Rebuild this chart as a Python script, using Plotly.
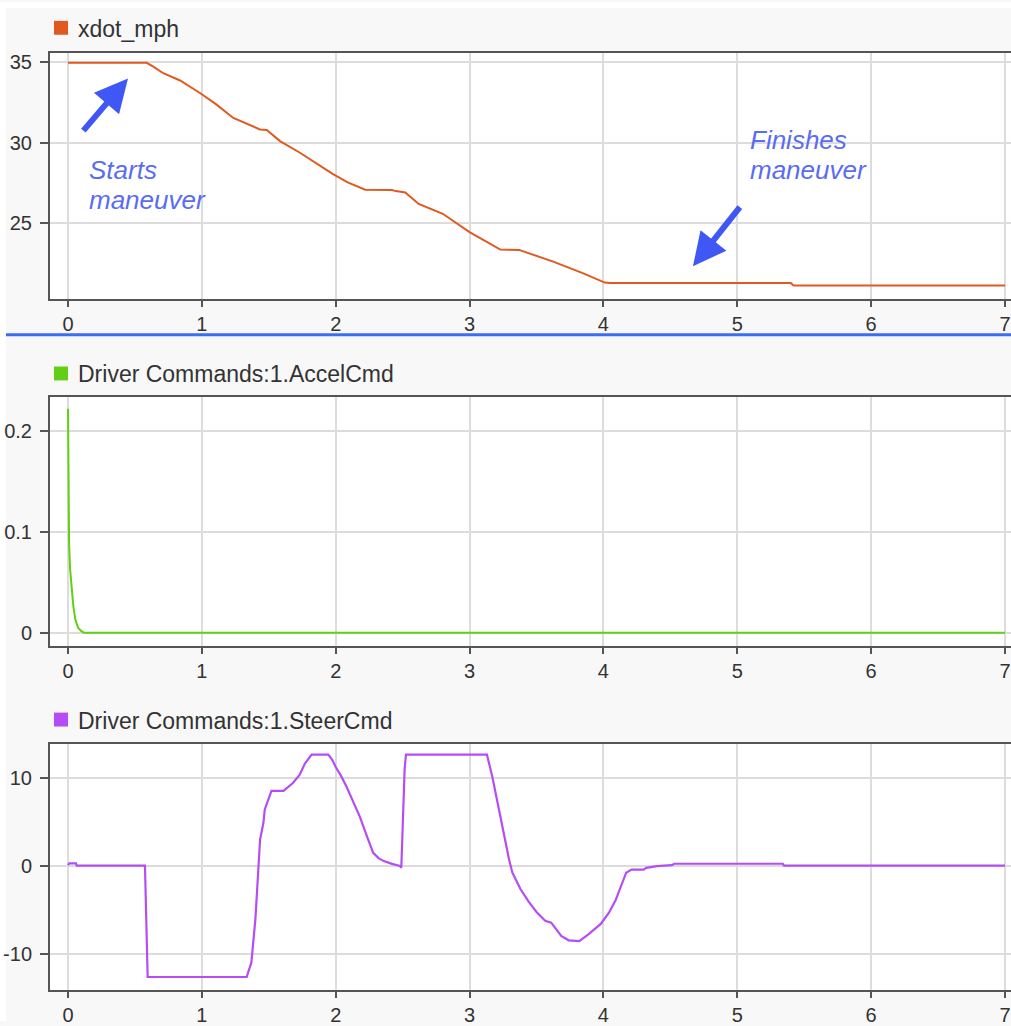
import plotly.graph_objects as go

# ---------------- data ----------------
speed_t = [0, 0.588, 0.637, 0.712, 0.837, 0.986, 1.1, 1.235, 1.434, 1.485, 1.584, 1.733, 1.98,
           2.09, 2.22, 2.42, 2.45, 2.52, 2.62, 2.80, 3.0, 3.23, 3.37, 3.63, 3.85, 4.01,
           4.05, 5.4, 5.42, 7.0]
speed_mph = [34.92, 34.92, 34.69, 34.28, 33.83, 33.06, 32.4, 31.52, 30.81, 30.78, 30.09, 29.37, 28.05,
             27.54, 27.09, 27.07, 27.0, 26.92, 26.21, 25.6, 24.47, 23.39, 23.37, 22.63, 21.92, 21.35,
             21.32, 21.32, 21.17, 21.17]

accel_t = [0, 0.002, 0.004, 0.008, 0.015, 0.025, 0.04, 0.055, 0.075, 0.1, 0.12, 7.0]
accel_cmd = [0.222, 0.17, 0.12, 0.09, 0.064, 0.045, 0.026, 0.013, 0.005, 0.0015, 0.0, 0.0]

steer_t = [0, 0.01, 0.06, 0.065, 0.575, 0.595, 1.335, 1.37, 1.40, 1.42, 1.435, 1.46, 1.47, 1.52,
           1.61, 1.68, 1.73, 1.77, 1.82, 1.945, 1.975, 2.0, 2.04, 2.08, 2.13, 2.18, 2.23, 2.28,
           2.32, 2.36, 2.42, 2.48, 2.49, 2.515, 2.525,
           3.13, 3.17, 3.235, 3.295, 3.32, 3.38, 3.44, 3.50, 3.565, 3.61, 3.685, 3.74, 3.82, 3.89,
           3.98, 4.04, 4.09, 4.17, 4.21, 4.30, 4.32, 4.40, 4.51, 4.53, 5.34, 5.35, 7.0]
steer_cmd = [0.1, 0.3, 0.3, 0.05, 0.05, -12.55, -12.55, -10.9, -6.0, -0.9, 3.0, 4.9, 6.4, 8.5,
             8.5, 9.4, 10.3, 11.6, 12.6, 12.6, 12.0, 11.2, 10.2, 9.0, 7.3, 5.6, 3.5, 1.5,
             0.9, 0.56, 0.25, 0.0, -0.2, 11.0, 12.6,
             12.6, 10.1, 5.2, 0.75, -0.75, -2.6, -4.0, -5.2, -6.2, -6.4, -7.9, -8.4, -8.5, -7.7,
             -6.55, -5.3, -3.9, -0.75, -0.4, -0.4, -0.2, 0.0, 0.1, 0.26, 0.26, 0.05, 0.05]

x_ticks = [0, 1, 2, 3, 4, 5, 6, 7]
speed_ticks = [25, 30, 35]
accel_ticks = [0, 0.1, 0.2]
accel_ticklabels = ["0", "0.1", "0.2"]
steer_ticks = [-10, 0, 10]
steer_ticklabels = ["-10", "0", "10"]

names = ["xdot_mph", "Driver Commands:1.AccelCmd", "Driver Commands:1.SteerCmd"]
colors = ["#e05a20", "#62cf14", "#b64cf4"]

# ---------------- layout geometry (pixels) ----------------
W, H = 1011, 1026
def py(p):
    return 1 - p / H

panels = [(51, 299), (398, 648), (747, 994.5)]
x_range = [-0.1345, 7.045]
y_ranges = [[20.34, 35.55], [-0.0128, 0.2335], [-13.99, 13.82]]

fig = go.Figure()
fig.add_trace(go.Scatter(x=speed_t, y=speed_mph, mode="lines", line=dict(color=colors[0], width=2),
                         xaxis="x", yaxis="y", showlegend=False))
fig.add_trace(go.Scatter(x=accel_t, y=accel_cmd, mode="lines", line=dict(color=colors[1], width=2),
                         xaxis="x2", yaxis="y2", showlegend=False))
fig.add_trace(go.Scatter(x=steer_t, y=steer_cmd, mode="lines", line=dict(color=colors[2], width=2.2),
                         xaxis="x3", yaxis="y3", showlegend=False))

tickfont = dict(family="Liberation Sans, Arial, sans-serif", size=20, color="#333333")
layout = dict(
    width=W, height=H,
    margin=dict(l=0, r=0, t=0, b=0),
    paper_bgcolor="#f8f8f8",
    plot_bgcolor="#ffffff",
    showlegend=False,
)
ytick_sets = [(speed_ticks, [str(v) for v in speed_ticks]),
              (accel_ticks, accel_ticklabels),
              (steer_ticks, steer_ticklabels)]
for i, (top, bot) in enumerate(panels):
    sfx = "" if i == 0 else str(i + 1)
    layout["xaxis" + sfx] = dict(
        domain=[50 / W, 1], range=x_range, anchor="y" + sfx,
        tickvals=x_ticks, ticktext=[str(v) for v in x_ticks],
        showgrid=True, gridcolor="#dcdcdc", gridwidth=2,
        zeroline=False, showline=True, linecolor="#555555", linewidth=2, mirror=True,
        ticks="outside", ticklen=6, tickcolor="#555555", tickwidth=1.5,
        tickfont=tickfont, fixedrange=True,
    )
    layout["yaxis" + sfx] = dict(
        domain=[py(bot), py(top)], range=y_ranges[i], anchor="x" + sfx,
        tickvals=ytick_sets[i][0], ticktext=ytick_sets[i][1],
        showgrid=True, gridcolor="#dcdcdc", gridwidth=2,
        zeroline=False, showline=True, linecolor="#555555", linewidth=2, mirror=False,
        ticks="outside", ticklen=8, tickcolor="#555555", tickwidth=1.5,
        tickfont=tickfont, fixedrange=True, ticklabelstandoff=4,
    )
fig.update_layout(**layout)

shapes = []
annotations = []
# white border strip at left/top
shapes.append(dict(type="rect", xref="paper", yref="paper", x0=0, x1=6 / W, y0=0, y1=1,
                   fillcolor="#ffffff", line=dict(width=0), layer="below"))
shapes.append(dict(type="rect", xref="paper", yref="paper", x0=0, x1=1, y0=py(6), y1=1,
                   fillcolor="#ffffff", line=dict(width=0), layer="below"))
# blue separator
shapes.append(dict(type="line", xref="paper", yref="paper", x0=6 / W, x1=1, y0=py(335), y1=py(335),
                   line=dict(color="#3a6cf4", width=3)))

legend_centers = [26, 374, 722.5]
for i, yc in enumerate(legend_centers):
    shapes.append(dict(type="rect", xref="paper", yref="paper",
                       x0=54 / W, x1=68 / W, y0=py(yc + 7), y1=py(yc - 7),
                       fillcolor=colors[i], line=dict(width=0)))
    annotations.append(dict(xref="paper", yref="paper", x=76 / W, y=py(yc + 1),
                            xanchor="left", yanchor="middle", showarrow=False,
                            text=names[i],
                            font=dict(family="Liberation Sans, Arial, sans-serif", size=23, color="#333333")))

note_font = dict(family="Liberation Sans, Arial, sans-serif", size=26, color="#5a6cf2")
note_texts = [("<i>Starts</i>", 0.142, 28.31), ("<i>maneuver</i>", 0.142, 26.47),
              ("<i>Finishes</i>", 5.08, 30.17), ("<i>maneuver</i>", 5.08, 28.33)]
for txt, xv, yv in note_texts:
    annotations.append(dict(xref="x", yref="y", x=xv, y=yv, xanchor="left", yanchor="middle",
                            showarrow=False, text=txt, font=note_font))

arrows = [((0.105, 30.64), (0.448, 33.96)), ((5.028, 26.10), (4.669, 22.36))]
for (tx, ty), (hx, hy) in arrows:
    annotations.append(dict(xref="x", yref="y", axref="x", ayref="y",
                            x=hx, y=hy, ax=tx, ay=ty, text="", showarrow=True,
                            arrowhead=2, arrowsize=1.1, arrowwidth=6, arrowcolor="#3f57f5"))

fig.update_layout(shapes=shapes, annotations=annotations)
fig.write_html(
    "out.html",
    config={"displayModeBar": False},
    post_script="document.body.style.margin='0';document.body.style.overflow='hidden';",
)
